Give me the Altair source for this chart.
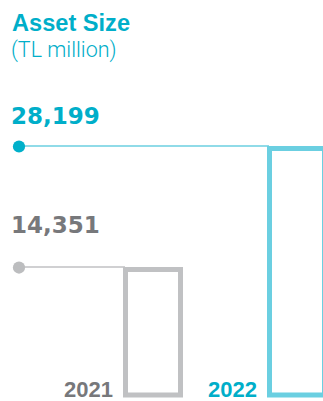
import altair as alt
import pandas as pd

years = ["2021", "2022"]
values = [14351, 28199]
labels = ["14,351", "28,199"]

CYAN_TEXT = "#00aec9"
CYAN_LINE = "#6bcfe1"
GREY_TEXT = "#77787b"
GREY_LINE = "#c0c1c3"

df = pd.DataFrame({"year": years, "value": values, "label": labels})

x = alt.X("year:O", scale=alt.Scale(type="point", domain=years, range=[153, 297], padding=0), axis=None)
y = alt.Y("value:Q", scale=alt.Scale(domain=[-698, 45194], zero=False, nice=False), axis=None)
color_line = alt.Color("year:N", scale=alt.Scale(domain=years, range=[GREY_LINE, CYAN_LINE]), legend=None)
color_text = alt.Color("year:N", scale=alt.Scale(domain=years, range=[GREY_TEXT, CYAN_TEXT]), legend=None)
color_dot = alt.Color("year:N", scale=alt.Scale(domain=years, range=["#bcbdbf", "#00b0ca"]), legend=None)

base = alt.Chart(df)

bars = base.mark_bar(width=55, fill="white", strokeWidth=5, clip=False).encode(
    x=x, y=y, y2=alt.datum(0),
    stroke=alt.Stroke("year:N", scale=alt.Scale(domain=years, range=[GREY_LINE, CYAN_LINE]), legend=None),
)

rules = base.mark_rule(strokeWidth=1.5, xOffset=-28, yOffset=-2.5).encode(
    x=x, x2=alt.value(19), y=y, color=color_line
)

dots = base.mark_circle(size=150, opacity=1, yOffset=-2).encode(
    x=alt.value(19), y=y, color=color_dot
)

val_2022 = base.transform_filter("datum.year == '2022'").mark_text(
    align="left", baseline="alphabetic", dy=-24.5, font="DejaVu Sans", fontWeight="bold", fontSize=23
).encode(x=alt.value(11), y=y, text="label:N", color=color_text)

val_2021 = base.transform_filter("datum.year == '2021'").mark_text(
    align="left", baseline="alphabetic", dy=-37, font="DejaVu Sans", fontWeight="bold", fontSize=23
).encode(x=alt.value(11), y=y, text="label:N", color=color_text)

year_text = base.mark_text(
    align="right", baseline="alphabetic", xOffset=-40, font="Liberation Sans", fontWeight="bold", fontSize=22
).encode(x=x, y=alt.value(397), text="year:N", color=color_text)

title1 = alt.Chart(pd.DataFrame({"t": ["Asset Size"]})).mark_text(
    align="left", baseline="alphabetic", font="Liberation Sans", fontWeight="bold", fontSize=23.6, color=CYAN_TEXT
).encode(x=alt.value(12), y=alt.value(30.5), text="t:N")

title2 = alt.Chart(pd.DataFrame({"t": ["(TL million)"]})).mark_text(
    align="left", baseline="alphabetic", font="Roboto", fontWeight=300, fontSize=21.5, color=CYAN_TEXT
).encode(x=alt.value(11), y=alt.value(57), text="t:N")

chart = alt.layer(bars, rules, dots, val_2022, val_2021, year_text, title1, title2).resolve_scale(
    color="independent"
).properties(
    width=323, height=401, autosize=alt.AutoSizeParams(type="none"), padding=0
).configure_view(stroke=None)

chart.save("out.html", embed_options={"renderer": "svg", "actions": False})
